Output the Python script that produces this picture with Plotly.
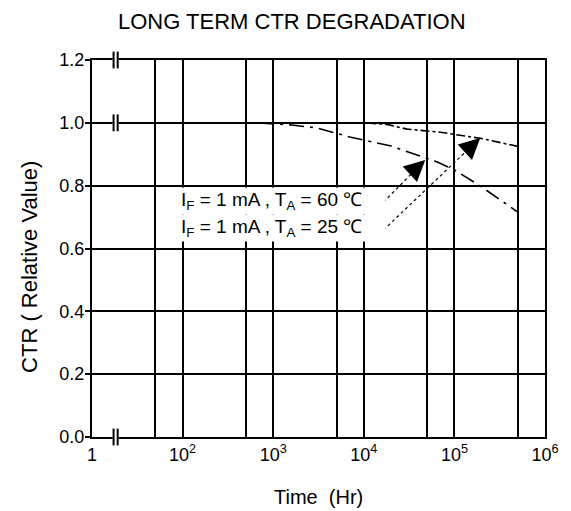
import numpy as np
import plotly.graph_objects as go

# ---- data ----
t_25 = [700, 2000, 5000, 10000, 18000, 30000, 70000, 200000, 500000]
ctr_25 = [1.0, 1.0, 1.0, 1.0, 0.995, 0.98, 0.97, 0.95, 0.925]

t_60 = [700, 1600, 3000, 7000, 20000, 33000, 65000, 100000, 200000, 500000]
ctr_60 = [1.0, 0.993, 0.984, 0.955, 0.926, 0.904, 0.875, 0.85, 0.796, 0.716]

x_tickvals = [10, 50, 100, 500, 1000, 5000, 10000, 50000, 100000, 500000, 1000000]
x_ticktext = ["1", "", "10<sup>2</sup>", "", "10<sup>3</sup>", "", "10<sup>4</sup>", "",
              "10<sup>5</sup>", "", "10<sup>6</sup>"]

label_60 = "I<sub>F</sub> = 1 mA , T<sub>A</sub> = 60 \u2103"
label_25 = "I<sub>F</sub> = 1 mA , T<sub>A</sub> = 25 \u2103"

# leader lines (tail -> tip) for the labels
lead_60_x = [16500, 47700]
lead_60_y = [0.748, 0.882]
lead_25_x = [16500, 193000]
lead_25_y = [0.659, 0.952]

break_x = [17.3, 19.2]
break_y = [0.0, 1.0, 1.2]

FONT = "Liberation Sans, Arial, sans-serif"

fig = go.Figure()

fig.add_trace(go.Scatter(x=t_25, y=ctr_25, mode="lines",
                         line=dict(color="black", width=1.6, dash="dashdot"),
                         showlegend=False))
fig.add_trace(go.Scatter(x=t_60, y=ctr_60, mode="lines",
                         line=dict(color="black", width=1.6, dash="longdashdot"),
                         showlegend=False))

# leader lines
for lx, ly in [(lead_60_x, lead_60_y), (lead_25_x, lead_25_y)]:
    fig.add_trace(go.Scatter(x=lx, y=ly, mode="lines",
                             line=dict(color="black", width=1.2, dash="dot"),
                             showlegend=False))

# axis break marks
bx_mid = [float(np.sqrt(break_x[0] * break_x[1]))] * len(break_y)
fig.add_trace(go.Scatter(x=bx_mid, y=break_y, mode="markers", cliponaxis=False,
                         marker=dict(symbol="square", size=6, color="white",
                                     line=dict(width=0)),
                         showlegend=False))
for bx in break_x:
    fig.add_trace(go.Scatter(x=[bx] * len(break_y), y=break_y, mode="markers",
                             cliponaxis=False,
                             marker=dict(symbol="line-ns", size=12,
                                         line=dict(width=2, color="black")),
                             showlegend=False))

# arrowheads
for lx, ly in [(lead_60_x, lead_60_y), (lead_25_x, lead_25_y)]:
    fig.add_annotation(x=np.log10(lx[1]), y=ly[1], xref="x", yref="y",
                       ax=-14, ay=13, text="", showarrow=True,
                       arrowhead=2, arrowsize=1.2, arrowwidth=3.5, arrowcolor="black")

# labels with white background
for txt, yv in [(label_60, 0.752), (label_25, 0.664)]:
    fig.add_annotation(x=np.log10(91), y=yv, xref="x", yref="y",
                       xanchor="left", yanchor="middle", text=txt, showarrow=False,
                       align="left", width=203, bgcolor="white", borderpad=1,
                       borderwidth=1, bordercolor="rgba(0,0,0,0)",
                       font=dict(family=FONT, size=19, color="black"))

# y-axis title
fig.add_annotation(x=-0.137, y=0.451, xref="paper", yref="paper",
                   xanchor="center", yanchor="middle",
                   text="CTR ( Relative Value)", textangle=-90, showarrow=False,
                   font=dict(family=FONT, size=22, color="black"))
# x-axis title
fig.add_annotation(x=0.499, y=-0.158, xref="paper", yref="paper",
                   xanchor="center", yanchor="middle",
                   text="Time  (Hr)", showarrow=False,
                   font=dict(family=FONT, size=20, color="black"))

fig.update_layout(
    width=571, height=511,
    margin=dict(l=84, r=34, t=52, b=82),
    paper_bgcolor="white", plot_bgcolor="white",
    title=dict(text="LONG TERM CTR DEGRADATION", x=0.497, xanchor="center",
               y=0.9735, yanchor="middle",
               font=dict(family=FONT, size=22, color="black")),
    font=dict(family=FONT, size=18, color="black"),
)

fig.update_xaxes(type="log", range=[1, 6], tickmode="array",
                 tickvals=x_tickvals, ticktext=x_ticktext,
                 showgrid=True, gridcolor="black", gridwidth=2,
                 showline=True, linecolor="black", linewidth=2, mirror=True,
                 ticks="", zeroline=False, layer="below traces",
                 tickfont=dict(family=FONT, size=18, color="black"))
fig.update_yaxes(range=[0, 1.2], tickmode="linear", tick0=0, dtick=0.2,
                 tickformat=".1f",
                 showgrid=True, gridcolor="black", gridwidth=2,
                 showline=True, linecolor="black", linewidth=2, mirror=True,
                 ticks="outside", ticklen=5, tickwidth=1.5, tickcolor="black",
                 ticklabelstandoff=-3,
                 zeroline=False, layer="below traces",
                 tickfont=dict(family=FONT, size=18, color="black"))

fig.write_html("out.html")
